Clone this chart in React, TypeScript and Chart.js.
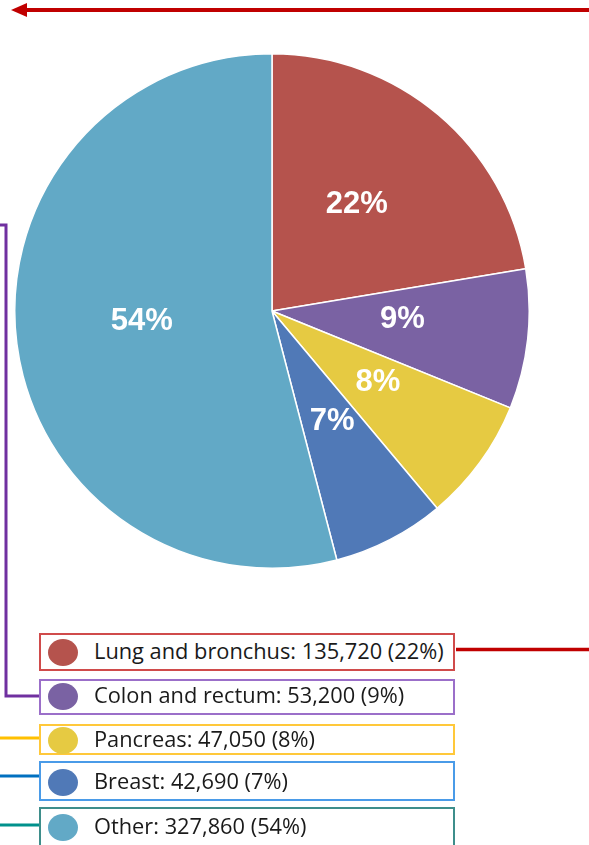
import React, { useEffect, useRef } from "react";
import { Chart, registerables } from "chart.js";

Chart.register(...registerables);

// ---- data ----
const categories = ["Lung and bronchus", "Colon and rectum", "Pancreas", "Breast", "Other"];
const counts = [135720, 53200, 47050, 42690, 327860];
const percentLabels = ["22%", "9%", "8%", "7%", "54%"];
const sliceColors = ["#B5534D", "#7A62A3", "#E6CA42", "#5079B7", "#62A9C6"];
const legendBorderColors = ["#D04B4B", "#9B6FC9", "#FFC83A", "#4A9BE8", "#3E8E8B"];

// ---- layout (positions only) ----
const rowBoxes = [
  { top: 633, height: 38, cy: 652 },
  { top: 679, height: 36, cy: 696 },
  { top: 724, height: 31, cy: 740 },
  { top: 761, height: 40, cy: 782 },
  { top: 807, height: 46, cy: 827 },
];

const fmt = (n: number) => n.toLocaleString("en-US");

const labelPlugin = {
  id: "sliceLabels",
  afterDatasetsDraw(chart: any) {
    const ctx = chart.ctx;
    const meta = chart.getDatasetMeta(0);
    ctx.save();
    ctx.fillStyle = "#FFFFFF";
    ctx.font = "bold 31px 'Liberation Sans', Arial, sans-serif";
    ctx.textAlign = "center";
    ctx.textBaseline = "middle";
    meta.data.forEach((arc: any, i: number) => {
      const p = arc.getProps(["x", "y", "startAngle", "endAngle", "outerRadius"], true);
      const mid = (p.startAngle + p.endAngle) / 2;
      const r = p.outerRadius * 0.51;
      ctx.fillText(percentLabels[i], p.x + Math.cos(mid) * r, p.y + Math.sin(mid) * r - 6);
    });
    ctx.restore();
  },
};

export default function App() {
  const canvasRef = useRef<HTMLCanvasElement | null>(null);

  useEffect(() => {
    if (!canvasRef.current) return;
    const chart = new Chart(canvasRef.current, {
      type: "pie",
      data: {
        labels: categories,
        datasets: [
          {
            data: counts,
            backgroundColor: sliceColors,
            borderColor: "#FFFFFF",
            borderWidth: 1.5,
          },
        ],
      },
      options: {
        responsive: false,
        maintainAspectRatio: false,
        animation: false,
        layout: { padding: 2 },
        plugins: {
          legend: { display: false },
          tooltip: { enabled: false },
        },
      },
      plugins: [labelPlugin],
    });
    return () => chart.destroy();
  }, []);

  const connectorColors = ["#C00000", "#7030A0", "#FFC000", "#0070C0", "#00918C"];

  return (
    <div
      style={{
        position: "fixed",
        left: 0,
        top: 0,
        width: 589,
        height: 845,
        background: "#FFFFFF",
        overflow: "hidden",
      }}
    >
      <canvas
        ref={canvasRef}
        width={520}
        height={520}
        style={{ position: "absolute", left: 12, top: 51, width: 520, height: 520 }}
      />
      <svg
        width={589}
        height={845}
        style={{ position: "absolute", left: 0, top: 0, pointerEvents: "none" }}
      >
        {/* top arrow */}
        <line x1={24} y1={10} x2={589} y2={10} stroke="#C00000" strokeWidth={4} />
        <polygon points="11,10 27,3 27,17" fill="#C00000" />
        {/* red connector on the right */}
        <line x1={456} y1={649.5} x2={589} y2={649.5} stroke={connectorColors[0]} strokeWidth={3.5} />
        {/* purple bracket */}
        <polyline
          points={`0,225 6,225 6,${rowBoxes[1].cy} 39,${rowBoxes[1].cy}`}
          fill="none"
          stroke={connectorColors[1]}
          strokeWidth={3}
        />
        <line x1={0} y1={738} x2={39} y2={738} stroke={connectorColors[2]} strokeWidth={3} />
        <line x1={0} y1={776} x2={39} y2={776} stroke={connectorColors[3]} strokeWidth={3} />
        <line x1={0} y1={825} x2={39} y2={825} stroke={connectorColors[4]} strokeWidth={3} />
      </svg>
      {categories.map((c, i) => {
        const b = rowBoxes[i];
        return (
          <div
            key={c}
            style={{
              position: "absolute",
              left: 39,
              top: b.top,
              width: 416,
              height: b.height,
              boxSizing: "border-box",
              border: `2px solid ${legendBorderColors[i]}`,
              background: "#FFFFFF",
            }}
          />
        );
      })}
      {categories.map((c, i) => {
        const b = rowBoxes[i];
        return (
          <React.Fragment key={c + "-t"}>
            <div
              style={{
                position: "absolute",
                left: 48,
                top: b.cy - 13,
                width: 30,
                height: 27,
                borderRadius: "50%",
                background: sliceColors[i],
              }}
            />
            <div
              style={{
                position: "absolute",
                left: 94,
                top: b.cy - 16,
                height: 30,
                lineHeight: "30px",
                fontFamily: "'Open Sans', sans-serif",
                fontSize: 21.8,
                color: "#1A1A1A",
                whiteSpace: "nowrap",
              }}
            >
              {`${c}: ${fmt(counts[i])} (${percentLabels[i]})`}
            </div>
          </React.Fragment>
        );
      })}
    </div>
  );
}
